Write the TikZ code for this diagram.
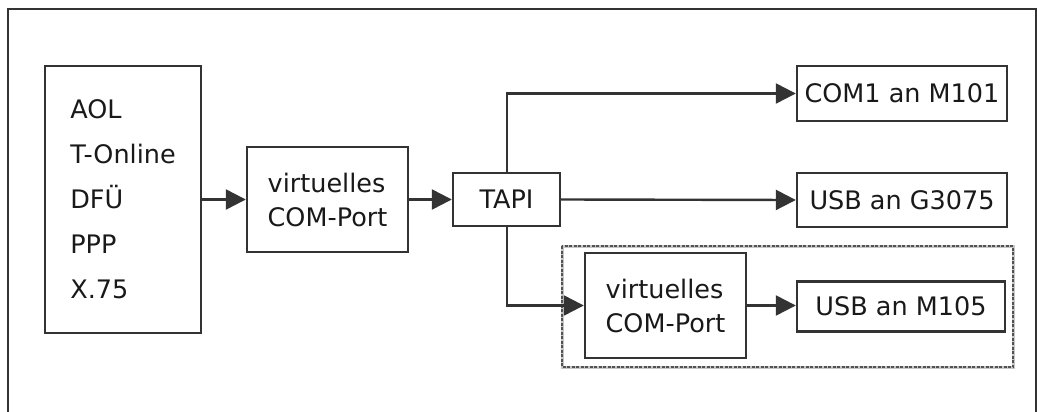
\documentclass[tikz,border=0pt]{standalone}
\usepackage{fontspec}
\setmainfont{DejaVu Sans}
\usetikzlibrary{arrows.meta,positioning}
\definecolor{ln}{HTML}{333333}
\tikzset{
  blk/.style={draw=ln, line width=2.4pt, inner sep=0pt, font=\fontsize{25.5}{34}\selectfont, text=black!90, align=center},
  conn/.style={draw=ln, line width=2.4pt, -{Triangle[length=20pt,width=20pt]}},
}
\begin{document}
\begin{tikzpicture}[x=1pt,y=-1pt]
\useasboundingbox (0,0) rectangle (1037,412);
\draw[ln, line width=2.4pt] (8,415) -- (8,9) -- (1036,9) -- (1036,415);
% dashed group
\draw[gray!45, line width=3pt] (562,246) rectangle (1013,367);
\draw[ln!85, line width=2.4pt, dash pattern=on 3pt off 1.5pt] (562,246) rectangle (1013,367);
% nodes
\node[blk, minimum width=156pt, minimum height=267pt, align=left, font=\fontsize{25.5}{45}\selectfont] (aol) at (123,199.5) {AOL\\T-Online\\DFÜ\\PPP\\X.75};
\node[blk, minimum width=161pt, minimum height=105pt, align=left] (vc1) at (327.5,199.5) {virtuelles\\COM-Port};
\node[blk, minimum width=107pt, minimum height=53pt] (tapi) at (506.5,199.5) {TAPI};
\node[blk, minimum width=210pt, minimum height=55pt] (com1) at (902,93.5) {COM1 an M101};
\node[blk, minimum width=210pt, minimum height=54pt] (usbg) at (902,200) {USB an G3075};
\node[blk, minimum width=161pt, minimum height=105pt, align=left] (vc2) at (665.5,305.5) {virtuelles\\COM-Port};
\node[blk, minimum width=208pt, minimum height=50pt] (usbm) at (901,306.5) {USB an M105};
\coordinate (br) at (507,199.5);
% connectors
\draw[conn] (aol) -- (vc1);
\draw[conn] (vc1) -- (tapi);
\draw[conn] (tapi.east) -- (usbg.west);
\draw[conn] (tapi.north -| br) |- (com1.west);
\draw[conn] (tapi.south -| br) |- (vc2.west);
\draw[conn] (vc2.east) -- (vc2.east -| usbm.west);
\end{tikzpicture}
\end{document}
